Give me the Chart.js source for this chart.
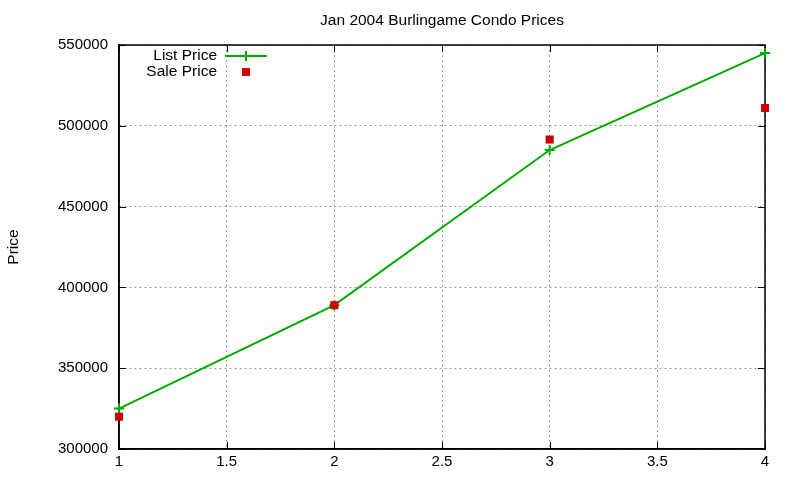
<!DOCTYPE html>
<html>
<head>
<meta charset="utf-8">
<script src="https://cdn.jsdelivr.net/npm/chart.js@4.4.1/dist/chart.umd.min.js"></script>
<style>
  html, body { margin: 0; padding: 0; background: #fff; }
</style>
</head>
<body>
<canvas id="chartPrecios" width="800" height="480"></canvas>
<script>
// Datos
const categorias = [1, 2, 3, 4];
const listPrice = [325000, 389000, 485000, 545000];
const salePrice = [320000, 389000, 491500, 511000];
const xTicks = [1, 1.5, 2, 2.5, 3, 3.5, 4];
const yTicks = [300000, 350000, 400000, 450000, 500000, 550000];

const verde = "#00aa00";
const rojo = "#cc0000";
const fuente = "'Liberation Sans', Arial, sans-serif";

// Título, marco, leyenda estilo gnuplot y marcas interiores de los ejes
const extrasPlugin = {
  id: "extras",
  beforeDatasetsDraw(chart) {
    const { ctx, chartArea: a, scales } = chart;
    ctx.save();
    ctx.fillStyle = "#000";
    ctx.font = "15.5px " + fuente;
    ctx.textAlign = "center";
    ctx.textBaseline = "middle";
    ctx.fillText("Jan 2004 Burlingame Condo Prices", (a.left + a.right) / 2, 21);

    // marco y marcas hacia adentro
    ctx.strokeStyle = "#000";
    ctx.lineWidth = 1.5;
    ctx.strokeRect(a.left, a.top, a.right - a.left, a.bottom - a.top);
    ctx.lineWidth = 1;
    ctx.beginPath();
    xTicks.forEach(v => {
      const x = Math.round(scales.x.getPixelForValue(v)) + 0.5;
      ctx.moveTo(x, a.bottom); ctx.lineTo(x, a.bottom - 7);
      ctx.moveTo(x, a.top); ctx.lineTo(x, a.top + 7);
    });
    yTicks.forEach(v => {
      const y = Math.round(scales.y.getPixelForValue(v)) + 0.5;
      ctx.moveTo(a.left, y); ctx.lineTo(a.left + 7, y);
      ctx.moveTo(a.right, y); ctx.lineTo(a.right - 7, y);
    });
    ctx.stroke();

    // leyenda
    chart.data.datasets.forEach((ds, i) => {
      const y = 56 + i * 16;
      ctx.fillStyle = "#000";
      ctx.font = "15.5px " + fuente;
      ctx.textAlign = "right";
      ctx.fillText(ds.label, 217, y);
      if (ds.showLine) {
        ctx.strokeStyle = ds.borderColor;
        ctx.lineWidth = 2;
        ctx.beginPath();
        ctx.moveTo(225, y); ctx.lineTo(267, y);
        ctx.moveTo(246, y - 5); ctx.lineTo(246, y + 5);
        ctx.stroke();
      } else {
        ctx.fillStyle = ds.backgroundColor;
        ctx.fillRect(242, y - 4, 8, 8);
      }
    });
    ctx.restore();
  }
};

const ctx = document.getElementById("chartPrecios");
new Chart(ctx, {
  type: "line",
  data: {
    datasets: [
      {
        label: "List Price",
        data: categorias.map((c, i) => ({ x: c, y: listPrice[i] })),
        borderColor: verde,
        backgroundColor: verde,
        borderWidth: 2,
        pointStyle: "cross",
        pointRadius: 5,
        pointBorderWidth: 2,
        showLine: true,
        tension: 0,
        clip: false,
        order: 2
      },
      {
        label: "Sale Price",
        data: categorias.map((c, i) => ({ x: c, y: salePrice[i] })),
        borderColor: rojo,
        backgroundColor: rojo,
        pointStyle: "rect",
        pointRadius: 5.7,
        pointBorderWidth: 0,
        showLine: false,
        clip: false,
        order: 1
      }
    ]
  },
  plugins: [extrasPlugin],
  options: {
    responsive: false,
    animation: false,
    layout: { padding: { left: 0, top: 45, right: 35, bottom: 0 } },
    plugins: { legend: { display: false }, title: { display: false }, tooltip: { enabled: false } },
    scales: {
      x: {
        type: "linear",
        min: 1,
        max: 4,
        afterBuildTicks: s => { s.ticks = xTicks.map(v => ({ value: v })); },
        afterFit: s => { s.height = 31; },
        ticks: { color: "#000", font: { family: fuente, size: 15 }, padding: 4, maxRotation: 0, callback: v => String(v) },
        grid: { color: "#999", drawTicks: false },
        border: { color: "#000", width: 1.5, dash: [2, 3] }
      },
      y: {
        min: 300000,
        max: 550000,
        afterBuildTicks: s => { s.ticks = yTicks.map(v => ({ value: v })); },
        afterFit: s => { s.width = 119; },
        ticks: { color: "#000", font: { family: fuente, size: 15 }, padding: 11, callback: v => String(v) },
        grid: { color: "#999", drawTicks: false },
        border: { color: "#000", width: 1.5, dash: [2, 3] },
        title: { display: true, text: "Price", color: "#000", font: { family: fuente, size: 15.5 }, padding: { top: 4, bottom: 0 } }
      }
    }
  }
});
</script>
</body>
</html>
